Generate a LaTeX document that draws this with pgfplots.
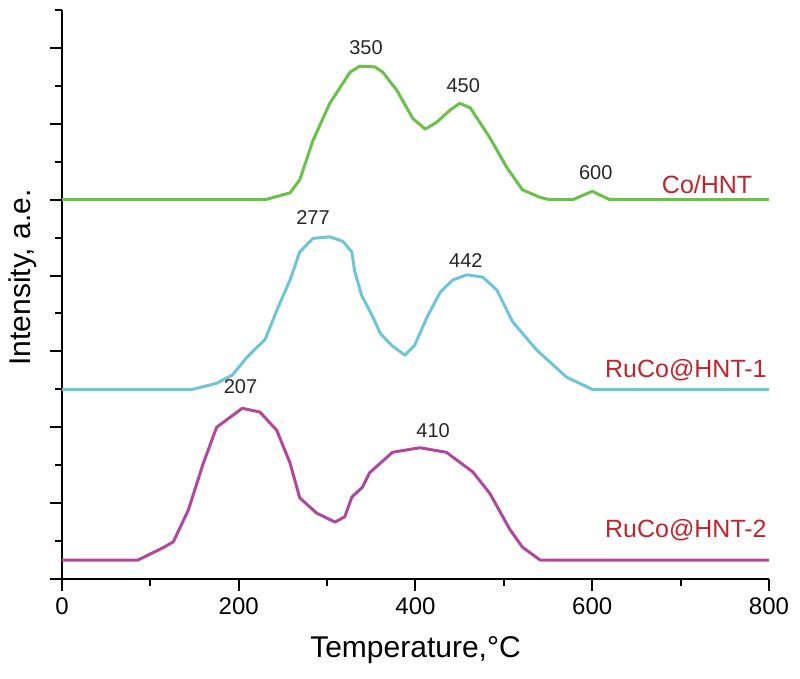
\documentclass[border=0pt]{standalone}
\usepackage{fontspec}
\setmainfont{Liberation Sans}
\usepackage{pgfplots}
\pgfplotsset{compat=1.18}
\definecolor{cgreen}{RGB}{106,192,72}
\definecolor{ccyan}{RGB}{112,196,216}
\definecolor{cmag}{RGB}{176,72,160}
\definecolor{cred}{RGB}{192,36,44}
\begin{document}
\begin{tikzpicture}
\begin{axis}[
  name=ax,
  scale only axis,
  width=353.5pt, height=284.5pt,
  xmin=0, xmax=800, ymin=0, ymax=7.5,
  axis lines=left,
  axis line style={line width=1pt, -},
  xtick={0,200,400,600,800},
  minor xtick={100,300,500,700},
  ytick={0,1,2,3,4,5,6,7},
  minor ytick={0.5,1.5,2.5,3.5,4.5,5.5,6.5,7.5},
  yticklabels={},
  tick align=outside,
  major tick length=6pt,
  minor tick length=3.5pt,
  tick style={line width=1pt, black},
  /pgf/number format/assume math mode=true,
  ticklabel style={font=\fontsize{12}{14}\selectfont},
  xlabel={Temperature,°C},
  ylabel={Intensity, a.e.},
  xlabel style={font=\fontsize{15}{17}\selectfont, at={(axis description cs:0.5,-0.125)}, anchor=center},
  ylabel style={font=\fontsize{15}{17}\selectfont, at={(axis description cs:-0.055,0.53)}, anchor=center},
  clip=false,
]
\addplot[cgreen, line width=1.5pt, line join=round] coordinates {
(0,5.0) (230,5.0) (258,5.09) (269,5.26) (284,5.78) (303,6.27) (326,6.68) (337,6.76) (354,6.75) (363,6.68) (379,6.44) (397,6.07) (411,5.93) (424,6.02) (439,6.18) (450,6.27) (462,6.21) (484,5.82) (503,5.43) (521,5.13) (541,5.03) (552,5.0) (578,5.0) (600,5.11) (620,5.0) (800,5.0)
};
\addplot[ccyan, line width=1.5pt, line join=round] coordinates {
(0,2.5) (148,2.5) (175,2.58) (193,2.69) (209,2.92) (230,3.16) (243,3.54) (258,3.94) (269,4.31) (284,4.49) (303,4.51) (318,4.45) (328,4.31) (331,4.07) (339,3.74) (352,3.45) (360,3.24) (373,3.08) (388,2.95) (399,3.08) (413,3.45) (428,3.78) (442,3.94) (458,4.01) (476,3.98) (492,3.81) (510,3.39) (537,3.02) (571,2.66) (600,2.5) (800,2.5)
};
\addplot[cmag, line width=1.5pt, line join=round] coordinates {
(0,0.25) (86,0.25) (114,0.41) (126,0.49) (143,0.91) (160,1.53) (175,2.0) (204,2.25) (224,2.20) (243,1.96) (258,1.53) (269,1.07) (288,0.87) (309,0.75) (320,0.82) (328,1.08) (340,1.21) (348,1.40) (374,1.67) (405,1.73) (435,1.67) (465,1.41) (484,1.13) (507,0.65) (521,0.42) (541,0.25) (800,0.25)
};
\begin{scope}[every node/.style={font=\fontsize{10}{12}\selectfont, text=black!85}]
\node at (axis cs:344,7.0) {350};
\node at (axis cs:454,6.5) {450};
\node at (axis cs:604,5.36) {600};
\node at (axis cs:284,4.77) {277};
\node at (axis cs:457,4.2) {442};
\node at (axis cs:202,2.53) {207};
\node at (axis cs:420,1.96) {410};
\end{scope}
\begin{scope}[every node/.style={font=\fontsize{12.5}{14}\selectfont, text=cred}]
\node at (axis cs:730,5.2) {Co/HNT};
\node at (axis cs:706,2.75) {RuCo@HNT-1};
\node at (axis cs:706,0.65) {RuCo@HNT-2};
\end{scope}
\end{axis}
\pgfresetboundingbox
\path[use as bounding box] (ax.south west) ++(-31pt,-50pt) rectangle ++(400pt,339.5pt);
\end{tikzpicture}
\end{document}
